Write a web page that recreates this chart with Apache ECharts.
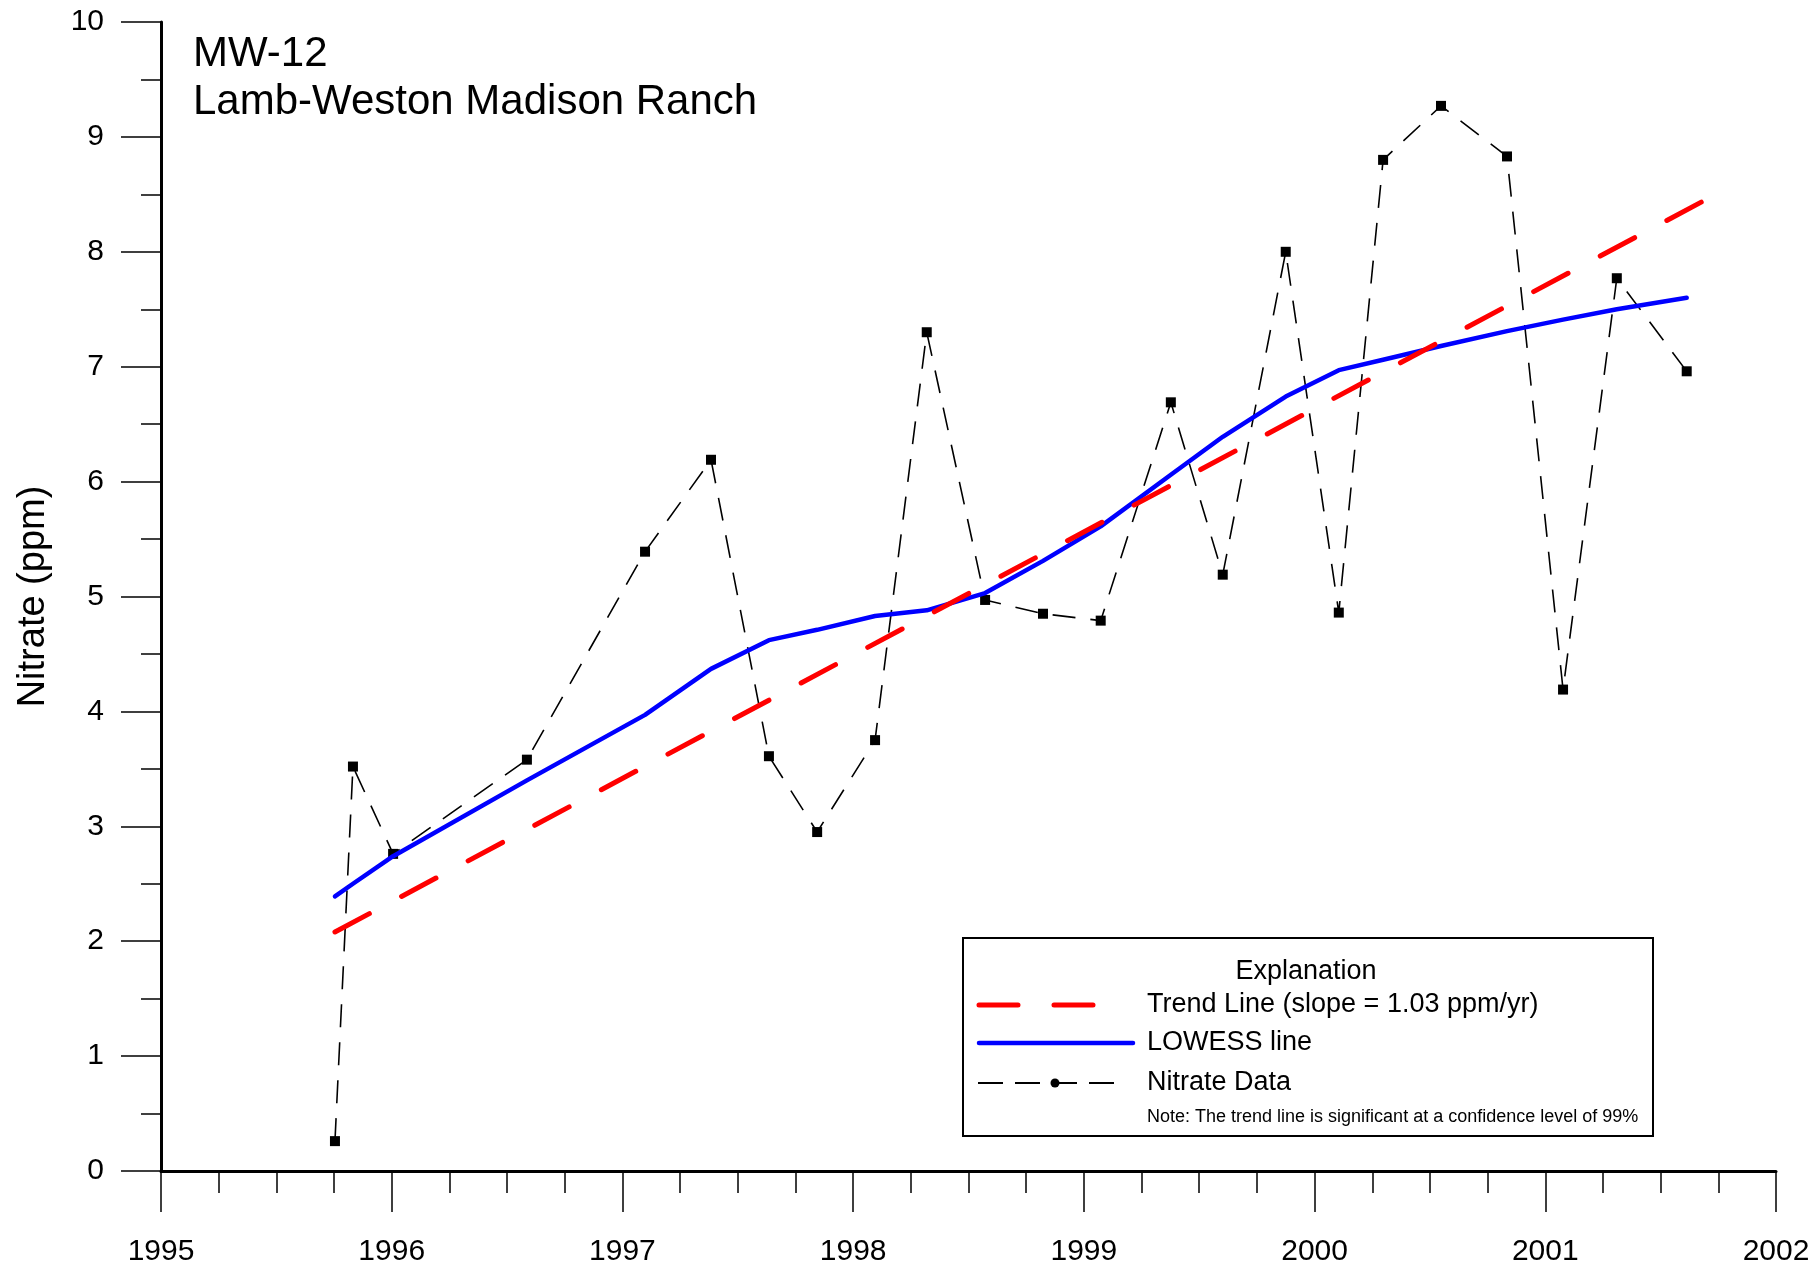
<!DOCTYPE html>
<html lang="en">
<head>
    <meta charset="UTF-8">
    <title>MW-12 Nitrate</title>
    <style>
        html, body { margin: 0; padding: 0; background: #fff; }
        #main { width: 1816px; height: 1267px; }
    </style>
</head>
<body>
<div id="main"></div>
<script src="https://cdn.jsdelivr.net/npm/echarts@6/dist/echarts.min.js"></script>
<script>
    // sample dates in decimal years
    const sampleDates = [1995.754, 1995.832, 1996.006, 1996.586, 1997.098, 1997.384, 1997.635, 1997.844,
        1998.095, 1998.319, 1998.572, 1998.823, 1999.073, 1999.377, 1999.602, 1999.875, 2000.105,
        2000.297, 2000.548, 2000.834, 2001.077, 2001.310, 2001.613];
    const nitrate = [0.26, 3.52, 2.76, 3.58, 5.39, 6.19, 3.61, 2.95,
        3.75, 7.30, 4.97, 4.85, 4.79, 6.69, 5.19, 8.00, 4.86,
        8.80, 9.27, 8.83, 4.19, 7.77, 6.96];
    const lowess = [2.39, 2.50, 2.74, 3.40, 3.97, 4.37, 4.62, 4.71,
        4.83, 4.88, 5.03, 5.31, 5.61, 6.06, 6.39, 6.74, 6.97,
        7.06, 7.18, 7.31, 7.41, 7.50, 7.60];
    const trendDates = [1995.754, 2001.683];
    const trendValues = [2.08, 8.44];
    const years = [1995, 2002];
    const ppmRange = [0, 10];

    const font = '"Liberation Sans", Arial, sans-serif';
    const pairs = (xs, ys) => xs.map((x, i) => [x, ys[i]]);

    const myChart = echarts.init(document.getElementById('main'));

    myChart.setOption({
        animation: false,
        title: {
            text: 'MW-12\nLamb-Weston Madison Ranch',
            left: 193,
            top: 30,
            padding: 0,
            textStyle: {fontFamily: font, fontSize: 42, fontWeight: 'normal', color: '#000', lineHeight: 48}
        },
        grid: {left: 161, right: 40, top: 22, bottom: 95},
        xAxis: {
            type: 'value',
            min: years[0],
            max: years[1],
            interval: 1,
            axisLine: {lineStyle: {color: '#000', width: 3}},
            axisTick: {length: 41, lineStyle: {color: '#000', width: 1.5}},
            minorTick: {show: true, splitNumber: 4, length: 22, lineStyle: {color: '#000', width: 1.5}},
            splitLine: {show: false},
            axisLabel: {
                margin: 66, color: '#000', fontFamily: font, fontSize: 30,
                formatter: v => String(Math.round(v))
            }
        },
        yAxis: {
            type: 'value',
            min: ppmRange[0],
            max: ppmRange[1],
            interval: 1,
            name: 'Nitrate (ppm)',
            nameLocation: 'middle',
            nameGap: 108,
            nameTextStyle: {fontFamily: font, fontSize: 38, color: '#000'},
            axisLine: {show: true, lineStyle: {color: '#000', width: 3}},
            axisTick: {show: true, length: 40, lineStyle: {color: '#000', width: 1.5}},
            minorTick: {show: true, splitNumber: 2, length: 20, lineStyle: {color: '#000', width: 1.5}},
            splitLine: {show: false},
            axisLabel: {margin: 57, color: '#000', fontFamily: font, fontSize: 30}
        },
        series: [
            {
                name: 'Nitrate Data',
                type: 'line',
                data: pairs(sampleDates, nitrate),
                symbol: 'rect',
                symbolSize: 10,
                itemStyle: {color: '#000'},
                lineStyle: {color: '#000', width: 1.6, type: [23, 15]},
                z: 2
            },
            {
                name: 'LOWESS line',
                type: 'line',
                data: pairs(sampleDates, lowess),
                symbol: 'none',
                lineStyle: {color: '#0000ff', width: 4.5, cap: 'round', join: 'round'},
                z: 3
            },
            {
                name: 'Trend Line',
                type: 'line',
                data: pairs(trendDates, trendValues),
                symbol: 'none',
                lineStyle: {color: '#ff0000', width: 5, type: [39, 36.5], cap: 'round'},
                z: 4
            }
        ],
        graphic: [
            {
                type: 'rect',
                shape: {x: 963, y: 938, width: 690, height: 198},
                style: {fill: '#fff', stroke: '#000', lineWidth: 2},
                z: 10
            },
            {
                type: 'text', x: 1306, y: 972, z: 11,
                style: {text: 'Explanation', font: '27px ' + font, fill: '#000', align: 'center', verticalAlign: 'middle'}
            },
            {
                type: 'line', z: 11,
                shape: {x1: 979, y1: 1005, x2: 1096, y2: 1005},
                style: {stroke: '#ff0000', lineWidth: 5, lineDash: [39, 36], lineCap: 'round'}
            },
            {
                type: 'text', x: 1147, y: 1005, z: 11,
                style: {text: 'Trend Line (slope = 1.03 ppm/yr)', font: '27px ' + font, fill: '#000', verticalAlign: 'middle'}
            },
            {
                type: 'line', z: 11,
                shape: {x1: 979, y1: 1043, x2: 1133, y2: 1043},
                style: {stroke: '#0000ff', lineWidth: 4.5, lineCap: 'round'}
            },
            {
                type: 'text', x: 1147, y: 1043, z: 11,
                style: {text: 'LOWESS line', font: '27px ' + font, fill: '#000', verticalAlign: 'middle'}
            },
            {
                type: 'line', z: 11,
                shape: {x1: 978, y1: 1083, x2: 1114, y2: 1083},
                style: {stroke: '#000', lineWidth: 1.8, lineDash: [25, 12]}
            },
            {
                type: 'circle', z: 12,
                shape: {cx: 1055, cy: 1083, r: 4.5},
                style: {fill: '#000'}
            },
            {
                type: 'text', x: 1147, y: 1083, z: 11,
                style: {text: 'Nitrate Data', font: '27px ' + font, fill: '#000', verticalAlign: 'middle'}
            },
            {
                type: 'text', x: 1147, y: 1117, z: 11,
                style: {text: 'Note: The trend line is significant at a confidence level of 99%', font: '18px ' + font, fill: '#000', verticalAlign: 'middle'}
            }
        ]
    });
</script>
</body>
</html>
